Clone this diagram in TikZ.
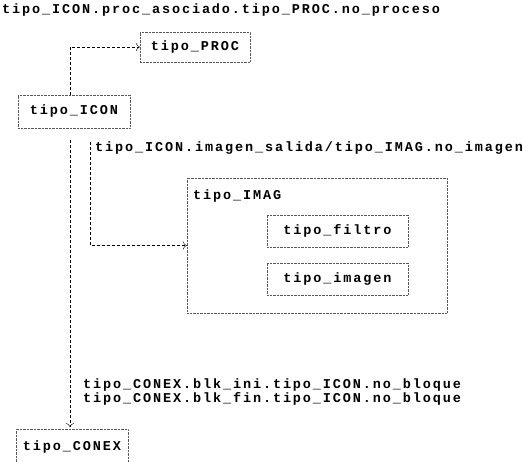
\documentclass[tikz,border=0pt]{standalone}
\usepackage{fontspec}
\usetikzlibrary{arrows.meta}
\newfontfamily\monof{Liberation Mono}[LetterSpace=14]
\tikzset{
  caja/.style={draw=black!65, densely dotted, thin, inner sep=0pt,
    font=\monof\bfseries\fontsize{13.5}{12}\selectfont},
  texto/.style={anchor=west, inner sep=0pt, align=left,
    font=\monof\bfseries\fontsize{13.5}{12}\selectfont},
  flecha/.style={densely dashed, thin, -{To[length=4pt]}}
}
\begin{document}
\begin{tikzpicture}[x=1pt,y=-1pt]
  \useasboundingbox (0,0) rectangle (527,461);
  \node[texto] (tproc) at (2,10) {tipo\_ICON.proc\_asociado.tipo\_PROC.no\_proceso};
  \node[caja, minimum width=110pt, minimum height=30pt] (proc) at (195,47) {tipo\_PROC};
  \node[caja, minimum width=112pt, minimum height=33pt] (icon) at (74,111.5) {tipo\_ICON};
  \node[caja, minimum width=112pt, minimum height=35pt, anchor=north] (conex) at (72,429) {tipo\_CONEX};
  \node[caja, minimum width=260pt, minimum height=135pt] (imag) at (317,245.5) {};
  \node[texto] (timag) at (193,196) {tipo\_IMAG};
  \node[caja, minimum width=141pt, minimum height=32pt] (filtro) at (337.5,231) {tipo\_filtro};
  \node[caja, minimum width=141pt, minimum height=32pt] (imagen) at (337.5,279) {tipo\_imagen};
  \node[texto] (tsal) at (95,148) {tipo\_ICON.imagen\_salida/tipo\_IMAG.no\_imagen};
  \node[texto] (tblk) at (83,392) {tipo\_CONEX.blk\_ini.tipo\_ICON.no\_bloque\\
    tipo\_CONEX.blk\_fin.tipo\_ICON.no\_bloque};
  % conexiones
  \draw[flecha] ([xshift=-4pt]icon.north) |- (proc.west);
  \draw[flecha, shorten <=12pt, shorten >=2pt] ([xshift=-4pt]icon.south) -- ([xshift=-2pt]conex.north);
  \draw[flecha, shorten <=14pt] ([xshift=16pt]icon.south) |- (imag.west);
\end{tikzpicture}
\end{document}
